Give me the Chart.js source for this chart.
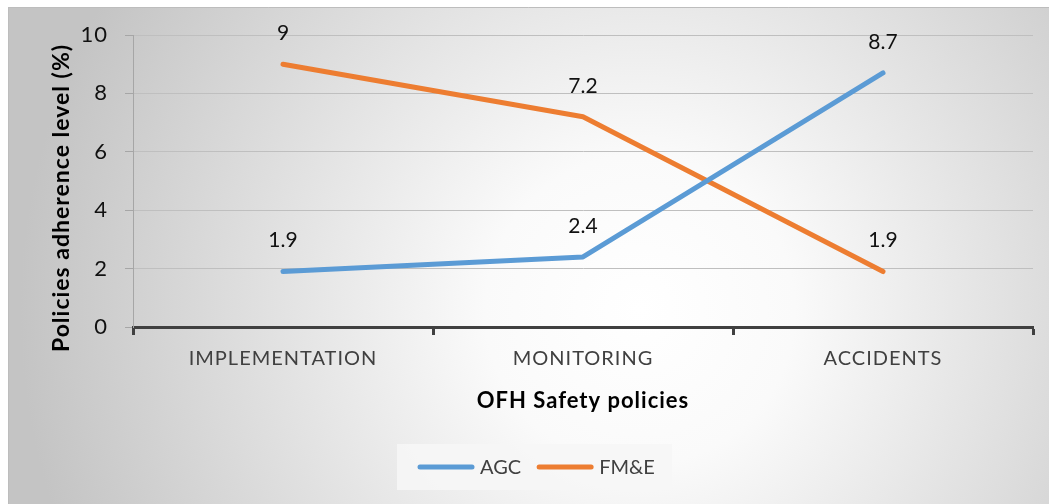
<!DOCTYPE html>
<html>
<head>
<meta charset="utf-8">
<script src="https://cdn.jsdelivr.net/npm/chart.js@4.4.1/dist/chart.umd.min.js"></script>
<style>
  html, body { margin: 0; padding: 0; background: #fff; }
  #wrap { width: 1049px; height: 504px; }
</style>
</head>
<body>
<div id="wrap"><canvas id="chart"></canvas></div>
<script>
  const categories = ["IMPLEMENTATION", "MONITORING", "ACCIDENTS"];
  const agcValues = [1.9, 2.4, 8.7];
  const fmeValues = [9, 7.2, 1.9];
  const seriesNames = ["AGC", "FM&E"];
  const yTicks = [0, 2, 4, 6, 8, 10];
  const xTitle = "OFH Safety policies";
  const yTitle = "Policies adherence level (%)";

  const FONT = "Lato, 'Open Sans', 'Noto Sans', sans-serif";

  // fond gris degrade + espaciado de letras para los ejes
  const bgPlugin = {
    id: "bg",
    beforeDraw(chart) {
      const { ctx, width, height } = chart;
      ctx.save();
      const g = ctx.createRadialGradient(640, 310, 0, 640, 310, 620);
      g.addColorStop(0, "#ffffff");
      g.addColorStop(0.25, "#fafafa");
      g.addColorStop(1, "#c4c4c4");
      ctx.fillStyle = g;
      ctx.fillRect(8, 7, width - 8, height - 7);
      ctx.strokeStyle = "#bdbdbd";
      ctx.lineWidth = 1;
      ctx.beginPath();
      ctx.moveTo(8.5, height);
      ctx.lineTo(8.5, 7.5);
      ctx.lineTo(width, 7.5);
      ctx.stroke();
      ctx.restore();
      ctx.letterSpacing = "1px";
    },
    beforeDatasetsDraw(chart) {
      chart.ctx.letterSpacing = "0px";
    }
  };

  // titulo del eje y (centrado como en la figura original)
  const yTitlePlugin = {
    id: "yTitle",
    afterDraw(chart) {
      const { ctx } = chart;
      ctx.save();
      ctx.letterSpacing = "1px";
      ctx.font = "bold 23px " + FONT;
      ctx.fillStyle = "#000";
      ctx.textAlign = "center";
      ctx.textBaseline = "middle";
      ctx.translate(62, 198);
      ctx.rotate(-Math.PI / 2);
      ctx.fillText(yTitle, 0, 0);
      ctx.restore();
    }
  };

  // etiquetas de valores sobre los puntos
  const labelsPlugin = {
    id: "valueLabels",
    afterDatasetsDraw(chart) {
      const { ctx } = chart;
      ctx.save();
      ctx.font = "21px " + FONT;
      ctx.fillStyle = "#111";
      ctx.textAlign = "center";
      ctx.textBaseline = "middle";
      chart.data.datasets.forEach((ds, i) => {
        chart.getDatasetMeta(i).data.forEach((pt, j) => {
          ctx.fillText(String(ds.data[j]), pt.x, pt.y - 31);
        });
      });
      ctx.restore();
    }
  };

  // leyenda dentro de un recuadro
  const legendPlugin = {
    id: "boxLegend",
    afterDraw(chart) {
      const { ctx } = chart;
      const boxX = 397, boxY = 444, boxW = 275, boxH = 46;
      ctx.save();
      ctx.letterSpacing = "0px";
      ctx.fillStyle = "rgba(246,246,246,0.9)";
      ctx.fillRect(boxX, boxY, boxW, boxH);
      ctx.font = "20px " + FONT;
      ctx.textBaseline = "middle";
      const cy = boxY + boxH / 2;
      let x = boxX + 23;
      chart.data.datasets.forEach((ds) => {
        ctx.strokeStyle = ds.borderColor;
        ctx.lineWidth = 5;
        ctx.lineCap = "round";
        ctx.beginPath();
        ctx.moveTo(x, cy);
        ctx.lineTo(x + 52, cy);
        ctx.stroke();
        ctx.fillStyle = "#404040";
        ctx.fillText(ds.label, x + 60, cy + 1);
        x += 60 + ctx.measureText(ds.label).width + 18;
      });
      ctx.restore();
    }
  };

  new Chart(document.getElementById("chart"), {
    type: "line",
    data: {
      labels: categories,
      datasets: [
        {
          label: seriesNames[0],
          data: agcValues,
          borderColor: "#5b9bd5",
          backgroundColor: "#5b9bd5",
          borderWidth: 5,
          borderCapStyle: "round",
          borderJoinStyle: "round",
          pointRadius: 0,
          tension: 0
        },
        {
          label: seriesNames[1],
          data: fmeValues,
          borderColor: "#ed7d31",
          backgroundColor: "#ed7d31",
          borderWidth: 5,
          borderCapStyle: "round",
          borderJoinStyle: "round",
          pointRadius: 0,
          tension: 0
        }
      ]
    },
    options: {
      responsive: true,
      maintainAspectRatio: false,
      animation: false,
      layout: { padding: { left: 8, top: 35, right: 16, bottom: 89 } },
      plugins: {
        legend: { display: false },
        tooltip: { enabled: false }
      },
      scales: {
        x: {
          offset: true,
          afterFit: (s) => { s.height = 88; },
          grid: {
            offset: true,
            drawOnChartArea: false,
            drawTicks: true,
            tickLength: 8,
            tickWidth: 3,
            tickColor: "#404040"
          },
          border: { color: "#404040", width: 3 },
          ticks: {
            color: "#404040",
            padding: 12,
            font: { family: FONT, size: 20 }
          },
          title: {
            display: true,
            text: xTitle,
            color: "#000",
            padding: { top: 0, bottom: 1 },
            font: { family: FONT, size: 22, weight: "bold" }
          }
        },
        y: {
          min: 0,
          max: 10,
          afterFit: (s) => { s.width = 125; },
          afterBuildTicks: (s) => { s.ticks = yTicks.map((v) => ({ value: v })); },
          grid: {
            color: "#bfbfbf",
            lineWidth: 1,
            tickLength: 8,
            tickColor: "#a6a6a6"
          },
          border: { color: "#a6a6a6", width: 1 },
          ticks: {
            color: "#111",
            padding: 17,
            font: { family: FONT, size: 22 }
          },
          title: { display: false }
        }
      }
    },
    plugins: [bgPlugin, labelsPlugin, legendPlugin, yTitlePlugin]
  });
</script>
</body>
</html>
